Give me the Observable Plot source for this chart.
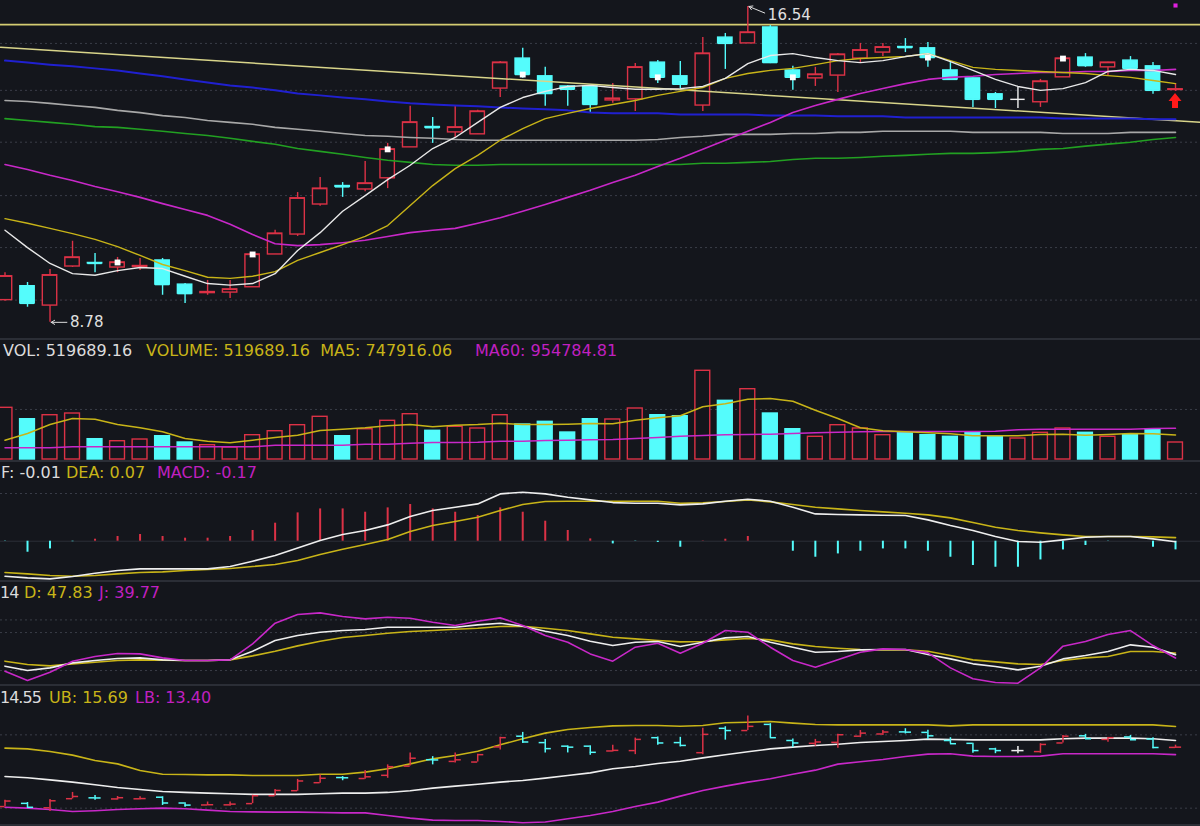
<!DOCTYPE html>
<html><head><meta charset="utf-8">
<script src="https://cdn.jsdelivr.net/npm/d3@7"></script>
<script src="https://cdn.jsdelivr.net/npm/@observablehq/plot@0.6"></script>
<style>
html,body{margin:0;padding:0;background:#14161c;}
#chart{position:relative;width:1200px;height:826px;overflow:hidden;background:#14161c;font-family:"DejaVu Sans",sans-serif;}
.panel{position:absolute;left:0;width:1200px;overflow:hidden;}
.sep{position:absolute;left:0;width:1200px;height:2px;background:#2b2e36;}
.hdr{position:absolute;font-size:16px;line-height:16px;white-space:pre;}
</style></head><body><div id="chart"></div>
<script>
// ---------------- data (one entry per trading day) ----------------
const open  = [9.18,9.44,9.08,9.82,9.89,9.80,9.81,9.94,9.47,9.31,9.32,9.42,10.06,10.47,11.12,11.54,11.46,11.72,12.47,12.99,12.85,12.80,14.03,14.90,14.38,14.09,14.09,13.70,13.73,14.78,14.38,13.56,15.54,15.36,15.86,14.55,14.32,14.40,14.90,15.08,15.25,15.21,14.55,14.32,13.87,13.73,13.65,14.35,14.93,14.64,14.84,14.67,13.99];
const high  = [9.70,9.51,9.76,10.33,10.08,10.00,9.98,9.98,9.49,9.55,9.55,10.10,10.56,11.39,11.74,11.62,12.12,12.57,13.54,13.24,13.54,13.43,14.81,15.21,14.64,14.12,14.12,14.17,14.75,14.84,14.81,15.54,15.67,16.54,15.92,14.67,14.64,15.05,15.36,15.36,15.51,15.39,14.78,14.32,13.92,14.06,14.29,14.96,15.05,14.79,14.96,14.78,14.17];
const low   = [9.16,9.05,8.78,9.80,9.70,9.70,9.74,9.27,9.12,9.27,9.21,9.42,10.06,10.43,11.08,11.28,11.41,11.48,12.47,12.57,12.72,12.80,13.78,14.32,13.54,13.54,13.35,13.62,13.40,14.17,14.03,13.40,14.58,15.36,14.75,13.98,14.09,13.92,14.78,14.96,15.08,14.64,14.29,13.51,13.48,13.48,13.51,14.35,14.64,14.40,14.61,13.87,13.95];
const close = [9.63,9.12,9.65,10.00,9.88,9.90,9.83,9.47,9.30,9.33,9.38,10.06,10.49,11.26,11.48,11.52,11.60,12.42,13.11,12.97,12.98,13.40,14.78,14.43,13.89,14.01,13.59,13.75,14.64,14.35,14.15,15.05,15.36,15.70,14.78,14.35,14.43,15.02,15.15,15.24,15.23,14.93,14.29,13.73,13.73,13.73,14.23,14.90,14.69,14.78,14.61,13.98,14.01];
const markDays = [5,11,17,23,29,35,41,47];

const maWhite = [10.56,10.20,9.88,9.68,9.65,9.74,9.80,9.78,9.63,9.49,9.46,9.49,9.68,10.14,10.51,10.97,11.32,11.69,12.03,12.44,12.72,13.11,13.51,13.78,13.95,14.09,14.12,14.06,14.01,14.01,14.03,14.09,14.32,14.75,14.99,15.05,14.93,14.84,14.78,14.84,14.96,15.05,14.81,14.55,14.29,14.09,13.98,14.03,14.20,14.52,14.58,14.55,14.43];
const maGold = [10.81,10.71,10.60,10.49,10.37,10.22,10.04,9.86,9.74,9.61,9.59,9.63,9.72,9.94,10.10,10.26,10.43,10.66,11.10,11.55,11.95,12.27,12.65,12.95,13.21,13.35,13.48,13.59,13.70,13.84,13.95,14.06,14.32,14.46,14.55,14.61,14.72,14.84,14.90,14.93,14.96,15.05,14.84,14.64,14.58,14.55,14.52,14.49,14.46,14.40,14.35,14.26,14.17];
const maMagenta = [12.05,11.93,11.79,11.67,11.53,11.41,11.28,11.14,11.01,10.88,10.69,10.47,10.28,10.24,10.26,10.30,10.35,10.43,10.51,10.56,10.60,10.71,10.83,10.97,11.12,11.28,11.44,11.62,11.79,12.00,12.20,12.42,12.65,12.88,13.11,13.37,13.56,13.73,13.89,14.03,14.17,14.29,14.35,14.38,14.43,14.46,14.49,14.49,14.52,14.52,14.55,14.55,14.58];
const maGreen = [13.21,13.16,13.11,13.06,13.00,12.98,12.93,12.88,12.82,12.77,12.70,12.62,12.55,12.44,12.37,12.30,12.22,12.15,12.10,12.05,12.03,12.03,12.05,12.05,12.05,12.05,12.05,12.05,12.05,12.05,12.05,12.08,12.08,12.10,12.12,12.17,12.20,12.20,12.22,12.25,12.27,12.30,12.32,12.32,12.34,12.37,12.42,12.44,12.50,12.55,12.60,12.67,12.72];
const maGray = [13.70,13.67,13.62,13.56,13.51,13.43,13.37,13.29,13.24,13.16,13.11,13.06,12.98,12.93,12.88,12.82,12.77,12.75,12.72,12.70,12.67,12.65,12.65,12.65,12.65,12.65,12.65,12.65,12.65,12.67,12.72,12.75,12.80,12.80,12.80,12.82,12.82,12.85,12.85,12.88,12.88,12.88,12.88,12.85,12.85,12.85,12.85,12.82,12.82,12.82,12.85,12.85,12.85];
const maBlue = [14.84,14.78,14.72,14.67,14.61,14.55,14.46,14.38,14.29,14.20,14.12,14.06,13.98,13.89,13.84,13.78,13.73,13.67,13.62,13.59,13.56,13.54,13.51,13.48,13.46,13.43,13.37,13.35,13.35,13.35,13.32,13.32,13.32,13.32,13.29,13.29,13.29,13.27,13.27,13.27,13.24,13.24,13.24,13.24,13.24,13.24,13.24,13.21,13.21,13.21,13.21,13.19,13.19];
const levelLine = [15.95];
const trendIdx = [-0.2, 53.11];
const trendPrice = [15.24, 13.11];
const priceGrid = [15.36, 13.98, 12.60, 11.32, 10.20, 9.18];

const volume = [1580000,1232000,1354000,1406000,621000,559000,611000,712000,520000,437000,367000,743000,865000,1049000,1305000,712000,926000,1183000,1385000,877000,1000000,948000,1354000,1070000,1152000,825000,1232000,1223000,1559000,1354000,1324000,2712000,1794000,2149000,1406000,926000,694000,1049000,948000,743000,825000,743000,694000,816000,712000,642000,816000,948000,816000,694000,743000,926000,519689.16];
const volMA5 = [590000,795000,1070000,1253000,1232000,1070000,969000,847000,642000,559000,511000,590000,673000,743000,887000,926000,969000,1030000,1070000,1000000,1049000,1070000,1110000,1070000,1070000,1079000,1101000,1091000,1201000,1275000,1336000,1611000,1703000,1843000,1865000,1782000,1507000,1253000,969000,877000,847000,816000,786000,725000,725000,725000,764000,773000,743000,764000,795000,786000,747916.06];
const volMA60 = [357000,357000,357000,387000,387000,387000,387000,387000,387000,387000,387000,387000,438000,438000,438000,438000,469000,469000,499000,520000,520000,530000,560000,560000,581000,591000,601000,611000,642000,673000,713000,734000,754000,764000,774000,795000,815000,835000,846000,856000,856000,856000,856000,856000,866000,907000,927000,927000,927000,927000,927000,948000,954784.81];
const volGrid = [1530000];

const dif = [-0.686,-0.718,-0.738,-0.692,-0.627,-0.575,-0.542,-0.542,-0.542,-0.542,-0.496,-0.392,-0.281,-0.131,0.013,0.131,0.209,0.320,0.483,0.601,0.666,0.731,0.927,0.960,0.927,0.862,0.810,0.757,0.744,0.744,0.712,0.731,0.784,0.823,0.784,0.666,0.535,0.522,0.516,0.509,0.503,0.418,0.307,0.209,0.091,-0.007,-0.020,0.026,0.078,0.091,0.091,0.046,-0.01];
const dea = [-0.614,-0.640,-0.673,-0.686,-0.673,-0.640,-0.614,-0.601,-0.575,-0.555,-0.535,-0.496,-0.457,-0.379,-0.261,-0.157,-0.065,0.033,0.189,0.307,0.385,0.470,0.601,0.718,0.777,0.784,0.784,0.784,0.784,0.784,0.744,0.751,0.777,0.810,0.771,0.718,0.666,0.633,0.601,0.575,0.549,0.516,0.457,0.366,0.274,0.209,0.163,0.124,0.091,0.091,0.091,0.085,0.07];
const macd = [-0.006,-0.216,-0.151,-0.010,0.039,0.092,0.131,0.092,0.059,0.059,0.092,0.210,0.353,0.555,0.633,0.633,0.568,0.653,0.719,0.633,0.568,0.504,0.653,0.568,0.392,0.210,0.045,-0.053,-0.006,-0.025,-0.118,0.006,0.039,0.092,0,-0.196,-0.314,-0.249,-0.196,-0.151,-0.151,-0.196,-0.314,-0.476,-0.510,-0.510,-0.367,-0.171,-0.084,-0.005,0,-0.118,-0.17];
const macdGrid = [0.935];

const kdjK = [26.9,20.0,24.2,32.1,35.8,39.0,40.0,36.9,35.8,35.8,36.9,50.6,67.4,75.3,80.6,83.2,84.8,88.5,88.5,88.5,88.5,92.2,94.8,90.1,82.2,75.3,66.4,59.5,64.8,65.8,57.9,64.8,71.6,73.7,64.8,56.9,49.0,50.0,52.7,53.2,53.2,45.3,38.4,30.6,26.3,21.1,26.9,38.4,43.7,50.0,60.6,56.9,45.14];
const kdjD = [34.8,29.5,27.4,30.6,33.2,35.8,36.9,36.3,35.8,35.8,36.9,43.2,50.6,59.0,66.4,72.2,75.3,79.0,81.6,83.2,85.3,86.9,89.5,90.1,86.9,83.2,77.9,72.7,70.0,67.4,65.3,65.8,68.5,70.6,68.5,62.1,57.9,55.3,53.2,52.7,52.7,50.6,43.7,36.9,33.7,30.6,29.5,35.8,40.0,42.1,50.0,50.0,47.83];
const kdjJ = [19.0,4.2,17.4,34.8,42.1,46.9,46.3,40.0,35.8,35.8,36.9,62.1,94.8,108.5,111.1,105.3,101.6,104.3,102.7,96.4,91.1,98.0,103.2,91.1,75.3,64.8,46.3,34.8,56.9,63.2,47.4,63.2,83.2,80.6,56.9,35.8,25.3,36.9,49.0,54.2,53.2,47.9,24.2,6.9,1.1,0.0,24.2,58.5,65.8,76.9,83.2,59.5,39.77];
const kdjGrid = [100, 80, 20];

const bollUB = [13.93,13.87,13.66,13.36,12.93,12.65,12.11,11.81,11.79,11.76,11.76,11.71,11.71,11.71,11.81,11.81,11.98,12.25,12.65,13.06,13.33,13.68,14.20,14.69,15.15,15.44,15.61,15.74,15.77,15.77,15.71,15.77,15.99,16.04,16.09,15.96,15.85,15.82,15.82,15.82,15.82,15.82,15.74,15.82,15.82,15.82,15.82,15.82,15.82,15.82,15.82,15.82,15.69];
const bollMID = [11.63,11.52,11.35,11.17,10.95,10.73,10.57,10.41,10.33,10.27,10.22,10.17,10.17,10.17,10.22,10.27,10.27,10.33,10.46,10.68,10.84,11.00,11.17,11.30,11.49,11.71,11.92,12.25,12.44,12.68,12.87,13.14,13.39,13.63,13.87,14.01,14.14,14.25,14.39,14.47,14.55,14.66,14.63,14.60,14.60,14.60,14.60,14.69,14.74,14.74,14.74,14.69,14.55];
const bollLB = [9.13,9.05,8.94,8.78,8.84,8.94,9.00,9.05,9.00,8.89,8.78,8.75,8.73,8.73,8.70,8.67,8.67,8.46,8.24,8.08,8.05,8.05,7.97,7.86,7.92,8.19,8.46,8.78,9.19,9.54,10.03,10.49,10.84,11.17,11.44,11.81,12.14,12.63,12.82,13.01,13.25,13.44,13.47,13.28,13.25,13.25,13.28,13.47,13.47,13.47,13.47,13.47,13.40];
const bollGrid = [15.01, 9.05];

// ---------------- styling ----------------
const BG = "#14161c", RED = "#dc3246", CYAN = "#54fcfc", WHITE = "#f0f0f0";
const GOLD = "#c8b418", MAG = "#c828c8", GRID = "#3a3d48";
const N = close.length;
const days = d3.range(N).map(i => ({i, o: open[i], h: high[i], l: low[i], c: close[i], v: volume[i]}));
const upCol = d => d.c > d.o ? RED : d.c < d.o ? CYAN : WHITE;
const chart = document.getElementById("chart");
const X = {domain: [-0.2, 53.11], range: [0, 1200], axis: null};
const idx = (d, i) => i;

function panel(top, height, y, marks) {
  const svg = Plot.plot({
    width: 1200, height, margin: 0,
    x: X, y: {...y, axis: null},
    color: {type: "identity"},
    style: {background: "transparent", fontFamily: "DejaVu Sans", color: "#ddd"},
    marks
  });
  const div = document.createElement("div");
  div.className = "panel";
  div.style.top = top + "px";
  div.style.height = height + "px";
  div.appendChild(svg);
  chart.appendChild(div);
}
function sep(top) {
  const d = document.createElement("div"); d.className = "sep"; d.style.top = top + "px"; chart.appendChild(d);
}
function header(top, parts) {
  for (const [left, text, color, ls] of parts) {
    const s = document.createElement("div");
    s.className = "hdr"; s.style.top = top + "px"; s.style.left = left + "px"; s.style.color = color;
    if (ls) s.style.letterSpacing = ls;
    s.textContent = text; chart.appendChild(s);
  }
}
const gridRule = vals => Plot.ruleY(vals, {stroke: GRID, strokeDasharray: "2,3", strokeWidth: 1});

// extremes
const hiI = d3.maxIndex(high), loI = d3.minIndex(low);
const hiPt = [{i: hiI, p: high[hiI], label: high[hiI].toFixed(2)}];
const loPt = [{i: loI, p: low[loI], label: low[loI].toFixed(2)}];

// ---------------- panel 1: price ----------------
panel(0, 338, {type: "log", domain: [8.50, 16.74], range: [338, 0]}, [
  gridRule(priceGrid),
  Plot.ruleY(levelLine, {stroke: "#d4cc72", strokeWidth: 1.6}),
  Plot.ruleX(days, {x: "i", y1: "l", y2: "h", stroke: upCol, strokeWidth: 1.4}),
  Plot.rect(days, {x1: d => d.i - 0.32, x2: d => d.i + 0.32, y1: "o", y2: "c",
    fill: d => d.c > d.o ? BG : upCol(d), stroke: upCol, strokeWidth: 1.4}),
  Plot.ruleY(days, {y: "c", x1: d => d.i - 0.32, x2: d => d.i + 0.32, stroke: upCol, strokeWidth: 1.4}),
  Plot.dot(markDays, {x: d => d, y: d => close[d], symbol: "square", r: 3.3, fill: "#ffffff"}),
  Plot.line(trendIdx, {x: d => d, y: (d, i) => trendPrice[i], stroke: "#d8d48a", strokeWidth: 1.5}),
  Plot.line(maBlue, {x: idx, y: d => d, stroke: "#2020d0", strokeWidth: 2}),
  Plot.line(maGray, {x: idx, y: d => d, stroke: "#a8a8a8", strokeWidth: 1.6}),
  Plot.line(maGreen, {x: idx, y: d => d, stroke: "#22a022", strokeWidth: 1.6}),
  Plot.line(maMagenta, {x: idx, y: d => d, stroke: MAG, strokeWidth: 1.6}),
  Plot.line(maGold, {x: idx, y: d => d, stroke: GOLD, strokeWidth: 1.4}),
  Plot.line(maWhite, {x: idx, y: d => d, stroke: "#e8e8e8", strokeWidth: 1.4}),
  Plot.arrow(hiPt, {x1: d => d.i + 0.75, y1: d => d.p * 0.987, x2: d => d.i + 0.05, y2: d => d.p,
    stroke: "#dddddd", strokeWidth: 1, headLength: 6}),
  Plot.text(hiPt, {x: d => d.i + 0.8, y: d => d.p * 0.982, text: "label", textAnchor: "start", dx: 2, fill: "#e0e0e0", fontSize: 15}),
  Plot.arrow(loPt, {x1: d => d.i + 0.75, y1: "p", x2: d => d.i + 0.05, y2: "p",
    stroke: "#dddddd", strokeWidth: 1, headLength: 6}),
  Plot.text(loPt, {x: d => d.i + 0.8, y: "p", text: "label", textAnchor: "start", dx: 2, fill: "#e0e0e0", fontSize: 15}),
  (index, scales) => {
    const x = scales.x(N - 1), y = scales.y(low[N - 1]);
    return d3.create("svg:path")
      .attr("d", `M${x},${y + 2} l6.5,8 h-3.5 v7 h-6 v-7 h-3.5 z`)
      .attr("fill", "#ff1a1a").node();
  },
  Plot.dot([N - 1], {x: d => d, frameAnchor: "top", dy: 5, symbol: "square", r: 2.3, fill: "#e020e0"})
]);
sep(338);

// ---------------- panel 2: volume ----------------
panel(340, 120, {domain: [0, 3638000], range: [119, 0]}, [
  gridRule(volGrid),
  Plot.rect(days, {x1: d => d.i - 0.33, x2: d => d.i + 0.33, y1: 0, y2: "v",
    fill: d => d.c >= d.o ? BG : CYAN, stroke: d => d.c >= d.o ? RED : CYAN, strokeWidth: 1.4}),
  Plot.line(volMA60, {x: idx, y: d => d, stroke: MAG, strokeWidth: 1.5}),
  Plot.line(volMA5, {x: idx, y: d => d, stroke: GOLD, strokeWidth: 1.5})
]);
header(343, [[3, "VOL: 519689.16", "#dcdcdc"], [146, "VOLUME: 519689.16  MA5: 747916.06", GOLD], [475, "MA60: 954784.81", "#c020c0"]]);
sep(460);

// ---------------- panel 3: MACD ----------------
panel(461, 119, {domain: [-0.770, 1.562], range: [119, 0]}, [
  gridRule(macdGrid),
  Plot.ruleY([0], {stroke: "#2c2f38", strokeWidth: 1}),
  Plot.ruleX(macd, {x: idx, y1: 0, y2: d => d, stroke: d => d >= 0 ? RED : CYAN, strokeWidth: 2}),
  Plot.line(dea, {x: idx, y: d => d, stroke: GOLD, strokeWidth: 1.6}),
  Plot.line(dif, {x: idx, y: d => d, stroke: "#eeeeee", strokeWidth: 1.6})
]);
header(465, [[1, "F: -0.01", "#dcdcdc"], [66, "DEA: 0.07", GOLD], [157, "MACD: -0.17", "#c020c0"]]);
sep(580);

// ---------------- panel 4: KDJ ----------------
panel(582, 103, {domain: [-3.63, 159.1], range: [103, 0]}, [
  gridRule(kdjGrid),
  Plot.line(kdjD, {x: idx, y: d => d, stroke: GOLD, strokeWidth: 1.6}),
  Plot.line(kdjK, {x: idx, y: d => d, stroke: "#eeeeee", strokeWidth: 1.6}),
  Plot.line(kdjJ, {x: idx, y: d => d, stroke: MAG, strokeWidth: 1.6})
]);
header(585, [[0, "14", "#dcdcdc", "-1px"], [24, "D: 47.83", GOLD], [99, "J: 39.77", "#c020c0"]]);
sep(684);

// ---------------- panel 5: BOLL ----------------
panel(686, 140, {domain: [7.56, 18.94], range: [140, 0]}, [
  gridRule(bollGrid),
  Plot.line(bollUB, {x: idx, y: d => d, stroke: GOLD, strokeWidth: 1.6}),
  Plot.line(bollMID, {x: idx, y: d => d, stroke: "#eeeeee", strokeWidth: 1.6}),
  Plot.line(bollLB, {x: idx, y: d => d, stroke: MAG, strokeWidth: 1.6}),
  Plot.ruleX(days, {x: "i", y1: "l", y2: "h", stroke: upCol, strokeWidth: 1.5}),
  Plot.ruleY(days, {y: "o", x1: d => d.i - 0.27, x2: "i", stroke: upCol, strokeWidth: 1.5}),
  Plot.ruleY(days, {y: "c", x1: "i", x2: d => d.i + 0.27, stroke: upCol, strokeWidth: 1.5})
]);
header(690, [[0, "14.55", "#dcdcdc", "-1px"], [49, "UB: 15.69", GOLD], [135, "LB: 13.40", "#c020c0"]]);
sep(824);
</script></body></html>
